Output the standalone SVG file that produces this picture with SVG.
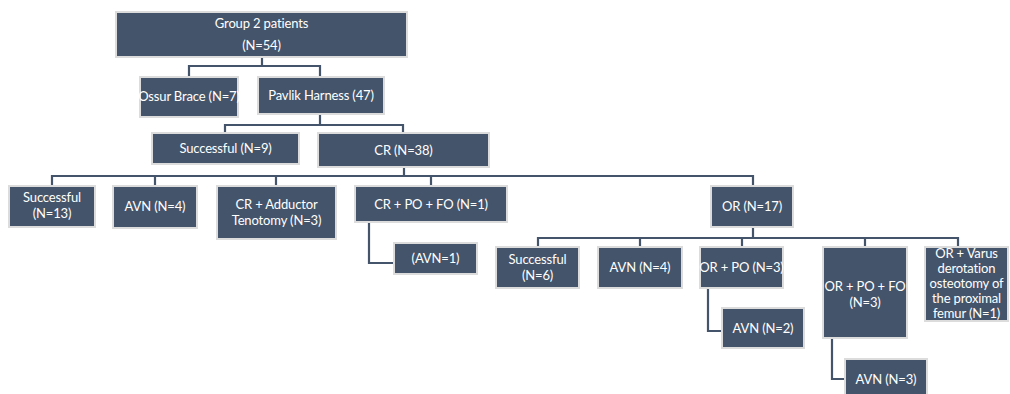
<svg xmlns="http://www.w3.org/2000/svg" width="1010" height="394" viewBox="0 0 1010 394">
<style>
.b{fill:#44546a;stroke:#dcdcdc;stroke-width:2}
.t{fill:#fff;font-family:Lato,"Liberation Sans",Arial,sans-serif;font-size:13px;letter-spacing:-0.15px;text-anchor:middle}
.c{fill:none;stroke:#44546a;stroke-width:2.2}
</style>
<rect width="1010" height="394" fill="#fff"/>
<g id="connectors">
<path class="c" d="M262 57V66M189 77V66H320V77"/>
<path class="c" d="M320 114V125M225 133V125H403V133"/>
<path class="c" d="M404 167V176M52 186V176H753V186M155 176V186M276 176V186M431 176V186"/>
<path class="c" d="M369 222V263H394"/>
<path class="c" d="M753 227V238M538 247V238H958V247M640 238V247M742 238V247M865 238V247"/>
<path class="c" d="M708 288V331H722"/>
<path class="c" d="M832 338V379H845"/>
</g>
<g id="n1"><rect class="b" x="116" y="12" width="291" height="45"/><text class="t" x="261.5" y="28">Group 2 patients</text><text class="t" x="261.5" y="50">(N=54)</text></g>
<g id="n2"><rect class="b" x="140" y="77" width="98" height="40"/><text class="t" x="189" y="101">Ossur Brace (N=7)</text></g>
<g id="n3"><rect class="b" x="258" y="77" width="126" height="37"/><text class="t" x="321" y="100">Pavlik Harness (47)</text></g>
<g id="n4"><rect class="b" x="152" y="133" width="147" height="31"/><text class="t" x="225.5" y="153">Successful (N=9)</text></g>
<g id="n5"><rect class="b" x="318" y="133" width="171" height="34"/><text class="t" x="403.5" y="155">CR (N=38)</text></g>
<g id="n6"><rect class="b" x="9" y="186" width="86" height="41"/><text class="t" x="52" y="202">Successful</text><text class="t" x="52" y="218">(N=13)</text></g>
<g id="n7"><rect class="b" x="113" y="186" width="84" height="42"/><text class="t" x="155" y="211">AVN (N=4)</text></g>
<g id="n8"><rect class="b" x="217" y="186" width="119" height="53"/><text class="t" x="276.5" y="209">CR + Adductor</text><text class="t" x="276.5" y="225">Tenotomy (N=3)</text></g>
<g id="n9"><rect class="b" x="355" y="186" width="152" height="36"/><text class="t" x="431" y="209">CR + PO + FO (N=1)</text></g>
<g id="n10"><rect class="b" x="394" y="243" width="83" height="31"/><text class="t" x="435.5" y="263">(AVN=1)</text></g>
<g id="n11"><rect class="b" x="711" y="186" width="82" height="41"/><text class="t" x="752" y="211">OR (N=17)</text></g>
<g id="n12"><rect class="b" x="496" y="247" width="83" height="41"/><text class="t" x="537.5" y="264">Successful</text><text class="t" x="537.5" y="280">(N=6)</text></g>
<g id="n13"><rect class="b" x="598" y="247" width="84" height="41"/><text class="t" x="640" y="272">AVN (N=4)</text></g>
<g id="n14"><rect class="b" x="700" y="247" width="83" height="41"/><text class="t" x="741.5" y="272">OR + PO (N=3)</text></g>
<g id="n15"><rect class="b" x="722" y="308" width="82" height="40"/><text class="t" x="763" y="333">AVN (N=2)</text></g>
<g id="n16"><rect class="b" x="823" y="247" width="84" height="91"/><text class="t" x="865" y="291">OR + PO + FO</text><text class="t" x="865" y="307">(N=3)</text></g>
<g id="n17"><rect class="b" x="845" y="359" width="82" height="40"/><text class="t" x="886" y="384">AVN (N=3)</text></g>
<g id="n18"><rect class="b" x="925" y="247" width="83" height="74"/><text class="t" x="966.5" y="258">OR + Varus</text><text class="t" x="966.5" y="273">derotation</text><text class="t" x="966.5" y="288">osteotomy of</text><text class="t" x="966.5" y="303">the proximal</text><text class="t" x="966.5" y="318">femur (N=1)</text></g>
</svg>
